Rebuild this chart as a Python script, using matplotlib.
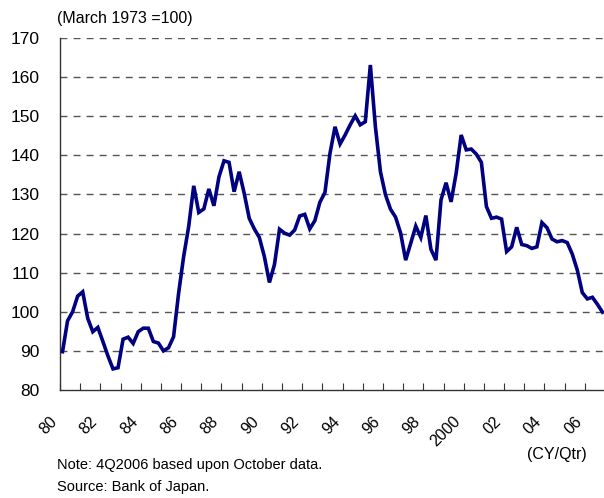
import matplotlib
matplotlib.use("Agg")
import matplotlib.pyplot as plt
import numpy as np

plt.rcParams['font.family'] = ['Liberation Sans', 'DejaVu Sans']

# Quarterly index values, 1Q1980 .. 4Q2006 (March 1973 = 100)
index_values = [
    89.8, 97.7, 100.0, 104.0, 105.1, 98.3, 94.9, 96.0,
    92.4, 88.7, 85.4, 85.7, 93.0, 93.5, 91.9, 94.9,
    95.8, 95.8, 92.4, 92.0, 90.0, 90.8, 93.6, 104.7,
    114.1, 121.8, 132.2, 125.4, 126.3, 131.4, 127.1, 134.5,
    138.6, 138.2, 130.7, 135.8, 130.3, 123.9, 121.2, 119.0,
    114.1, 107.5, 112.1, 121.1, 120.1, 119.6, 120.9, 124.5,
    124.9, 121.2, 123.3, 128.0, 130.5, 140.5, 147.3, 142.9,
    145.2, 147.8, 150.1, 147.8, 148.6, 163.1, 147.3, 135.8,
    129.9, 126.2, 124.2, 120.1, 113.2, 117.5, 121.9, 119.0,
    124.6, 116.0, 113.2, 128.6, 133.0, 128.1, 135.4, 145.2,
    141.4, 141.6, 140.3, 138.2, 126.9, 123.9, 124.2, 123.7,
    115.4, 116.6, 121.6, 117.2, 116.9, 116.2, 116.6, 122.8,
    121.5, 118.6, 117.9, 118.2, 117.7, 114.8, 110.7, 104.9,
    103.3, 103.7, 101.9, 99.9,
]
start_year = 1980
year_labels = ["80", "82", "84", "86", "88", "90", "92", "94", "96", "98",
               "2000", "02", "04", "06"]
y_ticks = [80, 90, 100, 110, 120, 130, 140, 150, 160, 170]

fig = plt.figure(figsize=(6.04, 4.98), dpi=100)
ax = fig.add_axes([60/604, (498-390)/498, 544/604, 352/498])

x = np.arange(len(index_values))
ax.plot(x, index_values, color='#000080', lw=2.6, solid_joinstyle='miter', zorder=3)

ax.set_ylim(80, 170)
ax.set_xlim(-0.5, 107.3)
ax.set_yticks(y_ticks)
ax.set_yticklabels([str(v) for v in y_ticks], fontsize=12.5)
ax.tick_params(axis='y', length=0, pad=14.4)

# ticks each year (category boundaries), labels every 2 years
n_years = len(index_values) // 4
ax.set_xticks([4*k - 0.5 for k in range(n_years)], minor=True)
ax.set_xticks([4*k*2 - 0.5 for k in range(len(year_labels))])
ax.set_xticklabels(year_labels, rotation=45, ha='right', va='top', fontsize=11.5,
                   rotation_mode='default')
ax.tick_params(axis='x', which='both', direction='in', length=5, width=0.8,
               color='#333333', pad=17)

for v in y_ticks[1:]:
    ax.axhline(v, color='#555555', lw=1.0, dashes=(5, 4.4), zorder=1)

for s in ['top', 'right']:
    ax.spines[s].set_visible(False)
for s in ['left', 'bottom']:
    ax.spines[s].set_color('#333333')
    ax.spines[s].set_linewidth(1.0)

fig.text(57/604, 1 - 19/498, "(March 1973 =100)", fontsize=11.5, va='center', ha='left')
fig.text(587/604, 1 - 454/498, "(CY/Qtr)", fontsize=11.5, va='center', ha='right')
fig.text(57/604, 1 - 465/498, "Note: 4Q2006 based upon October data.", fontsize=10.5,
         va='center', ha='left')
fig.text(57/604, 1 - 487/498, "Source: Bank of Japan.", fontsize=10.5, va='center', ha='left')

fig.savefig("out.png", dpi=100)
